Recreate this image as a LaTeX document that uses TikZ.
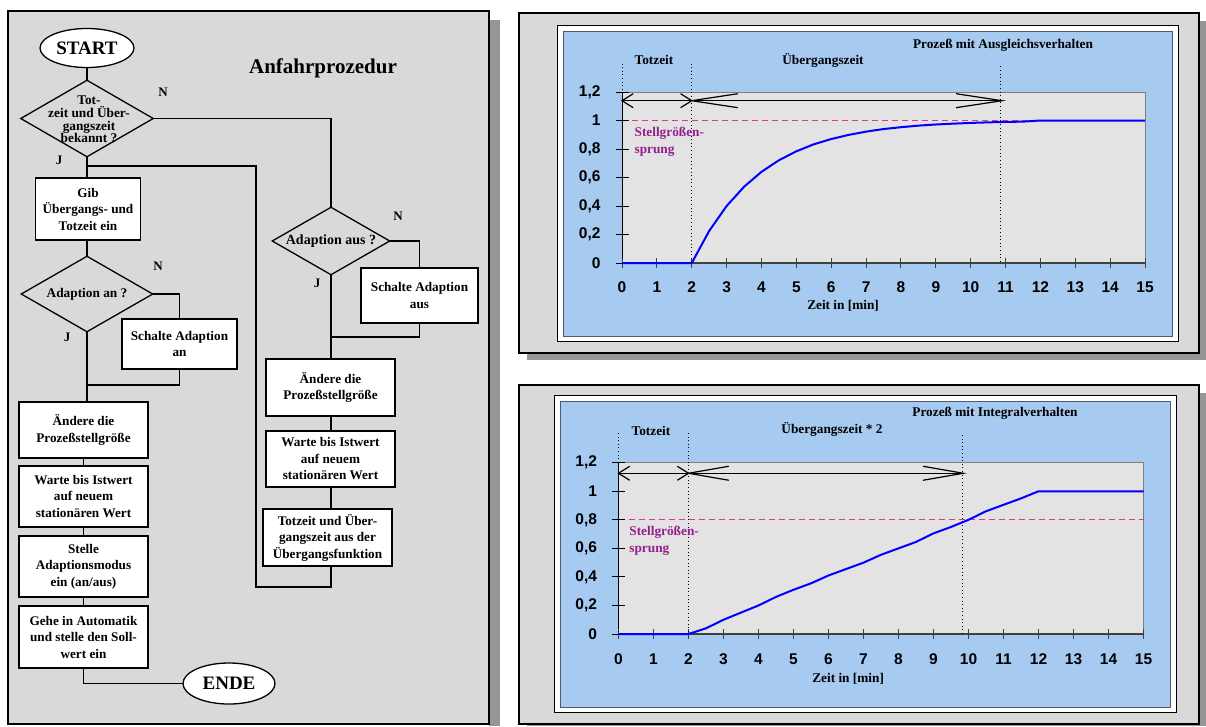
\documentclass[tikz,border=0pt]{standalone}
\usepackage{fontspec}
\setmainfont{Liberation Serif}
\newfontfamily\arialf{Liberation Sans}
\usetikzlibrary{shapes.geometric}
\definecolor{panelgray}{RGB}{217,217,217}
\definecolor{shadowgray}{RGB}{150,150,150}
\definecolor{chartblue}{RGB}{166,202,240}
\definecolor{plotgray}{RGB}{227,227,227}
\definecolor{stellpink}{RGB}{230,50,150}
\definecolor{stellpurple}{RGB}{150,30,140}
\definecolor{curveblue}{RGB}{0,0,255}
\definecolor{axisgray}{RGB}{64,64,64}
\definecolor{blueedge}{RGB}{80,90,110}
\newcommand\myfs[2]{\fontsize{#1}{#2}\selectfont}
\tikzset{
  fc/.style={line width=1.3pt, line cap=rect},
  stepbox/.style={draw, line width=1.3pt, fill=white, align=center, inner sep=0pt, font=\myfs{13.2}{16.5}\bfseries},
  dia/.style={diamond, draw, line width=1.3pt, inner sep=0pt},
  dtext/.style={font=\myfs{13.3}{12.6}\bfseries, align=center},
  term/.style={ellipse, draw, fill=white, line width=1.3pt, inner sep=0pt, font=\myfs{19}{21}\bfseries},
  yn/.style={font=\myfs{13}{14}\bfseries},
  ctext/.style={font=\myfs{13.3}{15}\bfseries},
  ylab/.style={font=\arialf\myfs{15.5}{17}\bfseries, anchor=east},
  xlab/.style={font=\arialf\myfs{15.5}{17}\bfseries},
  dotline/.style={line width=0.9pt, dash pattern=on 1pt off 2.6pt},
  dashpink/.style={stellpink, line width=1.6pt, dash pattern=on 6pt off 4pt},
  arr/.style={black, line width=1.4pt},
  arrw/.style={black, line width=1.2pt},
  curve/.style={curveblue, line width=2pt, line join=round},
  stell/.style={font=\myfs{13.3}{17}\bfseries, text=stellpurple, align=left, anchor=west},
  outerframe/.style={fill=panelgray, draw=black, line width=1.6pt},
  whiteframe/.style={fill=white, draw=black, line width=0.9pt},
  blueframe/.style={fill=chartblue, draw=blueedge, line width=0.9pt},
}
\begin{document}
\begin{tikzpicture}[x=1pt,y=-1pt]
\useasboundingbox (0,0) rectangle (1206,726);
\fill[white] (0,0) rectangle (1206,726);
% ---------------- left panel ----------------
\fill[shadowgray] (489,20) rectangle (500,726);
\filldraw[fill=panelgray, draw=black, line width=1.2pt] (8,11) rectangle (489,724);
\node[font=\myfs{21}{25}\bfseries] (title) at (323,68) {Anfahrprozedur};

\node[term, minimum width=94pt, minimum height=39pt] (start) at (87,48) {START};
\node[dia, minimum width=133pt, minimum height=77pt,
      label={[dtext, xshift=2pt, yshift=-1pt]center:{Tot-\\zeit und Über-\\gangszeit\\bekannt ?}}] (d1) at (87,118.5) {};
\node[stepbox, minimum width=105pt, minimum height=62pt] (gib) at (88,209) {Gib\\Übergangs- und\\Totzeit ein};
\node[dia, minimum width=132pt, minimum height=76pt,
      label={[dtext]center:{Adaption an ?}}] (d2) at (87,294) {};
\node[stepbox, minimum width=115pt, minimum height=50pt] (sa1) at (179.5,344) {Schalte Adaption\\an};
\node[stepbox, minimum width=129pt, minimum height=56pt] (aend1) at (83.5,430) {Ändere die\\Prozeßstellgröße};
\node[stepbox, minimum width=129pt, minimum height=61pt] (warte1) at (83.5,496.5) {Warte bis Istwert\\auf neuem\\stationären Wert};
\node[stepbox, minimum width=129pt, minimum height=61pt] (stelle) at (83.5,566.5) {Stelle\\Adaptionsmodus\\ein (an/aus)};
\node[stepbox, minimum width=129pt, minimum height=62pt] (gehe) at (83.5,637) {Gehe in Automatik\\und stelle den Soll-\\wert ein};
\node[term, minimum width=92pt, minimum height=41pt] (ende) at (229,683.5) {ENDE};

\node[dia, minimum width=118pt, minimum height=68pt,
      label={[dtext, font=\myfs{14}{14}\bfseries]center:{Adaption aus ?}}] (d3) at (331,241) {};
\node[stepbox, minimum width=117pt, minimum height=55pt] (sa2) at (419.5,295.5) {Schalte Adaption\\aus};
\node[stepbox, minimum width=129pt, minimum height=57pt] (aend2) at (330.5,387.5) {Ändere die\\Prozeßstellgröße};
\node[stepbox, minimum width=129pt, minimum height=56pt] (warte2) at (330.5,459) {Warte bis Istwert\\auf neuem\\stationären Wert};
\node[stepbox, minimum width=129pt, minimum height=57pt] (tue) at (327.5,537.5) {Totzeit und Über-\\gangszeit aus der\\Übergangsfunktion};

\node[yn] (n1) at (163,92) {N};
\node[yn] (j1t) at (59,160) {J};
\node[yn] (n2) at (158,266) {N};
\node[yn] (j2t) at (67,337) {J};
\node[yn] (n3) at (398,216) {N};
\node[yn] (j3t) at (317,283) {J};

\coordinate (j1) at (87,166);
\coordinate (j2) at (87,385);
\coordinate (j3) at (331,337);
\coordinate (lp) at (256,587);

\draw[fc] (start.south) -- (d1.north);
\draw[fc] (d1.south) -- (d1.south |- gib.north);
\draw[fc] (d1.south |- gib.south) -- (d2.north);
\draw[fc] (d1.east) -| (d3.north);
\draw[fc] (d2.east) -| (sa1.north);
\draw[fc] (sa1.south) |- (j2);
\draw[fc] (d2.south) -- (d2.south |- aend1.north);
\draw[fc] (aend1.south) -- (warte1.north);
\draw[fc] (warte1.south) -- (stelle.north);
\draw[fc] (stelle.south) -- (gehe.north);
\draw[fc] (gehe.south) |- (ende.west);
\draw[fc] (d3.east) -| (sa2.north);
\draw[fc] (sa2.south) |- (j3);
\draw[fc] (d3.south) -- (d3.south |- aend2.north);
\draw[fc] (d3.south |- aend2.south) -- (d3.south |- warte2.north);
\draw[fc] (d3.south |- warte2.south) -- (d3.south |- tue.north);
\draw[fc] (d3.south |- tue.south) |- (lp) |- (j1);

% ---------------- top chart ----------------
\fill[shadowgray] (527,21) rectangle (1206,360);
\filldraw[outerframe] (519,13) rectangle (1199,353);
\filldraw[whiteframe] (557,25) rectangle (1178,341);
\filldraw[blueframe] (563,31) rectangle (1172,336);
\node[ctext] (tz1) at (654,60) {Totzeit};
\node[ctext] (ug1) at (823,60) {Übergangszeit};
\node[ctext] (pr1) at (1003,45) {Prozeß mit Ausgleichsverhalten};
\begin{scope}[shift={(622,263)}, x=34.87pt, y=142.5pt]
  \filldraw[fill=plotgray, draw=gray, line width=0.8pt] (0,0) rectangle (15,1.2);
  \draw[dashpink] (0,1) -- (15,1);
  \draw[black, line width=0.8pt] (0,0) -- (0,1.2);
  \foreach \v/\l in {0/0,0.2/0{,}2,0.4/0{,}4,0.6/0{,}6,0.8/0{,}8,1/1,1.2/1{,}2}{
    \draw[black, line width=1pt] (0,\v) ++(-6.5pt,0pt) -- ++(13pt,0pt);
    \node[ylab, xshift=-18pt] at (0,\v) {\l};
  }
  \draw[axisgray, line width=2pt] (0,0) -- (15,0);
  \foreach \t in {0,...,15}{
    \draw[axisgray, line width=1pt] (\t,0) ++(0pt,5pt) -- ++(0pt,-9.5pt);
    \node[xlab, yshift=-24pt] at (\t,0) {\t};
  }
  \node[ctext] at (6.34,0) [yshift=-43pt] {Zeit in [min]};
  \draw[dotline] (0,1.40) -- (0,0);
  \draw[dotline] (2,1.40) -- (2,0);
  \draw[dotline] (10.85,1.38) -- (10.85,0);
  \draw[arr] (0,1.139) -- (10.9,1.139);
  \draw[arrw] (0.32,1.188) -- (0,1.139) -- (0.32,1.090);
  \draw[arrw] (1.68,1.188) -- (2,1.139) -- (1.68,1.090);
  \draw[arrw] (3.32,1.188) -- (2,1.139) -- (3.32,1.090);
  \draw[arrw] (9.58,1.188) -- (10.9,1.139) -- (9.58,1.090);
  \node[stell] at (0.26,0.853) {Stellgrößen-\\sprung};
  \draw[curve] (0,0) -- (2,0) -- (2.5,0.225) -- (3,0.4) -- (3.5,0.535) -- (4,0.64) -- (4.5,0.721)
     -- (5,0.784) -- (5.5,0.833) -- (6,0.870) -- (6.5,0.899) -- (7,0.922) -- (7.5,0.940)
     -- (8,0.953) -- (8.5,0.964) -- (9,0.972) -- (9.5,0.978) -- (10,0.983) -- (10.5,0.987)
     -- (11,0.990) -- (11.5,0.992) -- (12,1) -- (15,1);
\end{scope}

% ---------------- bottom chart ----------------
\fill[shadowgray] (527,393) rectangle (1206,726);
\filldraw[outerframe] (519,385) rectangle (1199,724);
\filldraw[whiteframe] (554,395) rectangle (1176,712);
\filldraw[blueframe] (560,401) rectangle (1170,707);
\node[ctext] (tz2) at (651,431) {Totzeit};
\node[ctext] (ug2) at (832,429) {Übergangszeit * 2};
\node[ctext] (pr2) at (995,413) {Prozeß mit Integralverhalten};
\begin{scope}[shift={(618.5,634)}, x=35pt, y=142.75pt]
  \filldraw[fill=plotgray, draw=gray, line width=0.8pt] (0,0) rectangle (15,1.2);
  \draw[dashpink] (0,0.8021) -- (15,0.8021);
  \draw[black, line width=0.8pt] (0,0) -- (0,1.2);
  \foreach \v/\l in {0/0,0.2/0{,}2,0.4/0{,}4,0.6/0{,}6,0.8/0{,}8,1/1,1.2/1{,}2}{
    \draw[black, line width=1pt] (0,\v) ++(-6.5pt,0pt) -- ++(13pt,0pt);
    \node[ylab, xshift=-18pt] at (0,\v) {\l};
  }
  \draw[axisgray, line width=2pt] (0,0) -- (15,0);
  \foreach \t in {0,...,15}{
    \draw[axisgray, line width=1pt] (\t,0) ++(0pt,5pt) -- ++(0pt,-9.5pt);
    \node[xlab, yshift=-25pt] at (\t,0) {\t};
  }
  \node[ctext] at (6.56,0) [yshift=-45pt] {Zeit in [min]};
  \draw[dotline] (0,1.408) -- (0,0);
  \draw[dotline] (2,1.408) -- (2,0);
  \draw[dotline] (9.83,1.394) -- (9.83,0);
  \draw[arr] (0,1.126) -- (9.85,1.126);
  \draw[arrw] (0.32,1.175) -- (0,1.126) -- (0.32,1.077);
  \draw[arrw] (1.68,1.175) -- (2,1.126) -- (1.68,1.077);
  \draw[arrw] (3.15,1.175) -- (2,1.126) -- (3.15,1.077);
  \draw[arrw] (8.70,1.175) -- (9.85,1.126) -- (8.70,1.077);
  \node[stell] at (0.21,0.655) {Stellgrößen-\\sprung};
  \draw[curve] (0,0) -- (2,0) -- (2.5,0.04) -- (3,0.1) -- (3.5,0.15) -- (4,0.2) -- (4.5,0.26)
     -- (5,0.31) -- (5.5,0.355) -- (6,0.41) -- (6.5,0.455) -- (7,0.5) -- (7.5,0.555)
     -- (8,0.6) -- (8.5,0.645) -- (9,0.705) -- (9.5,0.75) -- (10,0.8) -- (10.5,0.86)
     -- (11,0.905) -- (11.5,0.95) -- (12,1) -- (15,1);
\end{scope}
\end{tikzpicture}
\end{document}
